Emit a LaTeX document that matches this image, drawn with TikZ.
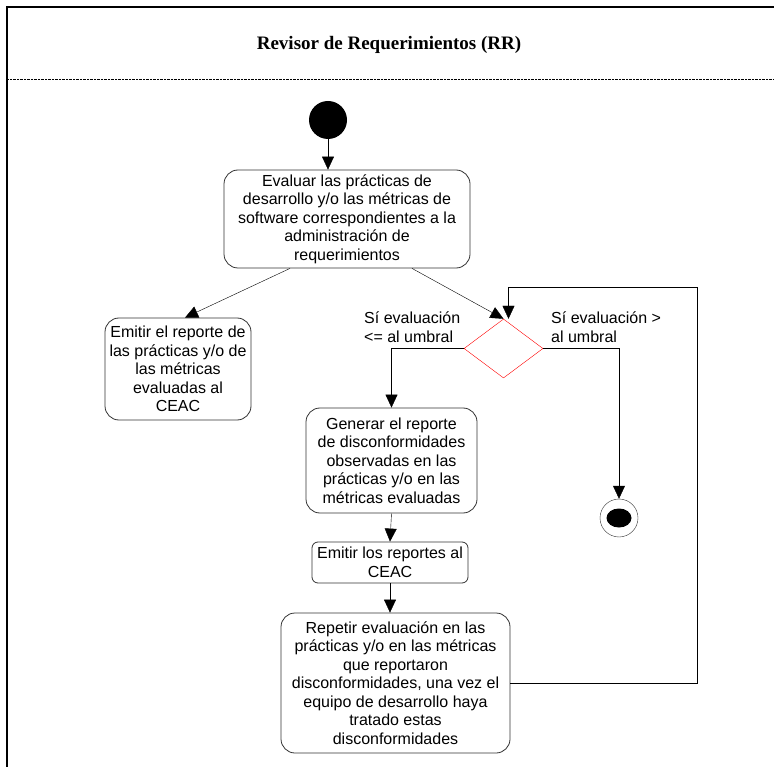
\documentclass[tikz,border=0pt]{standalone}
\usepackage{fontspec}
\setmainfont{Liberation Sans}
\newfontfamily\titlefont{Liberation Serif}
\usetikzlibrary{arrows.meta,shapes.geometric}

\begin{document}
\begin{tikzpicture}[x=1pt,y=-1pt,
  accion/.style={draw=black!80, thick, rounded corners=14pt, align=center, inner sep=0pt,
    font=\fontsize{16}{18.5}\selectfont},
  etiqueta/.style={anchor=north west, align=left, inner sep=0pt,
    font=\fontsize{16}{18.5}\selectfont},
  flujo/.style={draw=black, -{Triangle[length=13pt,width=12pt]}},
]
% Page and swimlane frame
\useasboundingbox (0,0) rectangle (774,767);
\draw[line width=1.2pt] (7,767) -- (7,7) -- (774,7);
\draw[densely dotted] (7,79) -- (774,79);
\node (titulo) at (389,45) {\titlefont\bfseries\fontsize{19}{22}\selectfont Revisor de Requerimientos (RR)};

% Start and end
\node[circle, fill=black, minimum size=38pt, inner sep=0pt] (inicio) at (328,120) {};
\node[circle, draw=black!80, minimum size=38pt, inner sep=0pt] (fin) at (619,518) {};
\fill (fin) ellipse (12.5 and 9.5);

% Actions
\node[accion, minimum width=246pt, minimum height=98pt] (evaluar) at (347,219)
  {Evaluar las prácticas de\\desarrollo y/o las métricas de\\software correspondientes a la\\administración de\\requerimientos};
\node[accion, minimum width=146pt, minimum height=102pt] (emitirrep) at (178,369)
  {Emitir el reporte de\\las prácticas y/o de\\las métricas\\evaluadas al\\CEAC};
\node[accion, minimum width=171pt, minimum height=105pt] (generar) at (391.5,460.5)
  {Generar el reporte\\de disconformidades\\observadas en las\\prácticas y/o en las\\métricas evaluadas};
\node[accion, rounded corners=6pt, minimum width=156pt, minimum height=41pt] (emitir) at (390,562.5)
  {Emitir los reportes al\\CEAC};
\node[accion, minimum width=229pt, minimum height=140pt] (repetir) at (395.5,683)
  {Repetir evaluación en las\\prácticas y/o en las métricas\\que reportaron\\disconformidades, una vez el\\equipo de desarrollo haya\\tratado estas\\disconformidades};

% Decision
\node[diamond, draw=red, minimum width=79pt, minimum height=59pt, inner sep=0pt] (decision) at (503.5,348.5) {};
\node[etiqueta] (menor) at (364,312) {Sí evaluación\\<= al umbral};
\node[etiqueta] (mayor) at (551,312) {Sí evaluación >\\al umbral};

% Flows
\draw[flujo] (inicio.south) -- (inicio.south |- evaluar.north);
\draw[flujo] ([xshift=-57pt]evaluar.south) -- ([xshift=7pt]emitirrep.north);
\draw[flujo] ([xshift=65pt]evaluar.south) -- (decision.north);
\draw[flujo] (decision.west) -| (generar.north);
\draw[flujo] (decision.east) -| (fin.north);
\draw[flujo] (generar.south) -- (emitir.north);
\draw[flujo] (emitir.south) -- (emitir.south |- repetir.north);
\coordinate (vuelta) at (697,287);
\draw[flujo] (repetir.east) -| (vuelta) -| ([xshift=5pt]decision.north);
\end{tikzpicture}
\end{document}
